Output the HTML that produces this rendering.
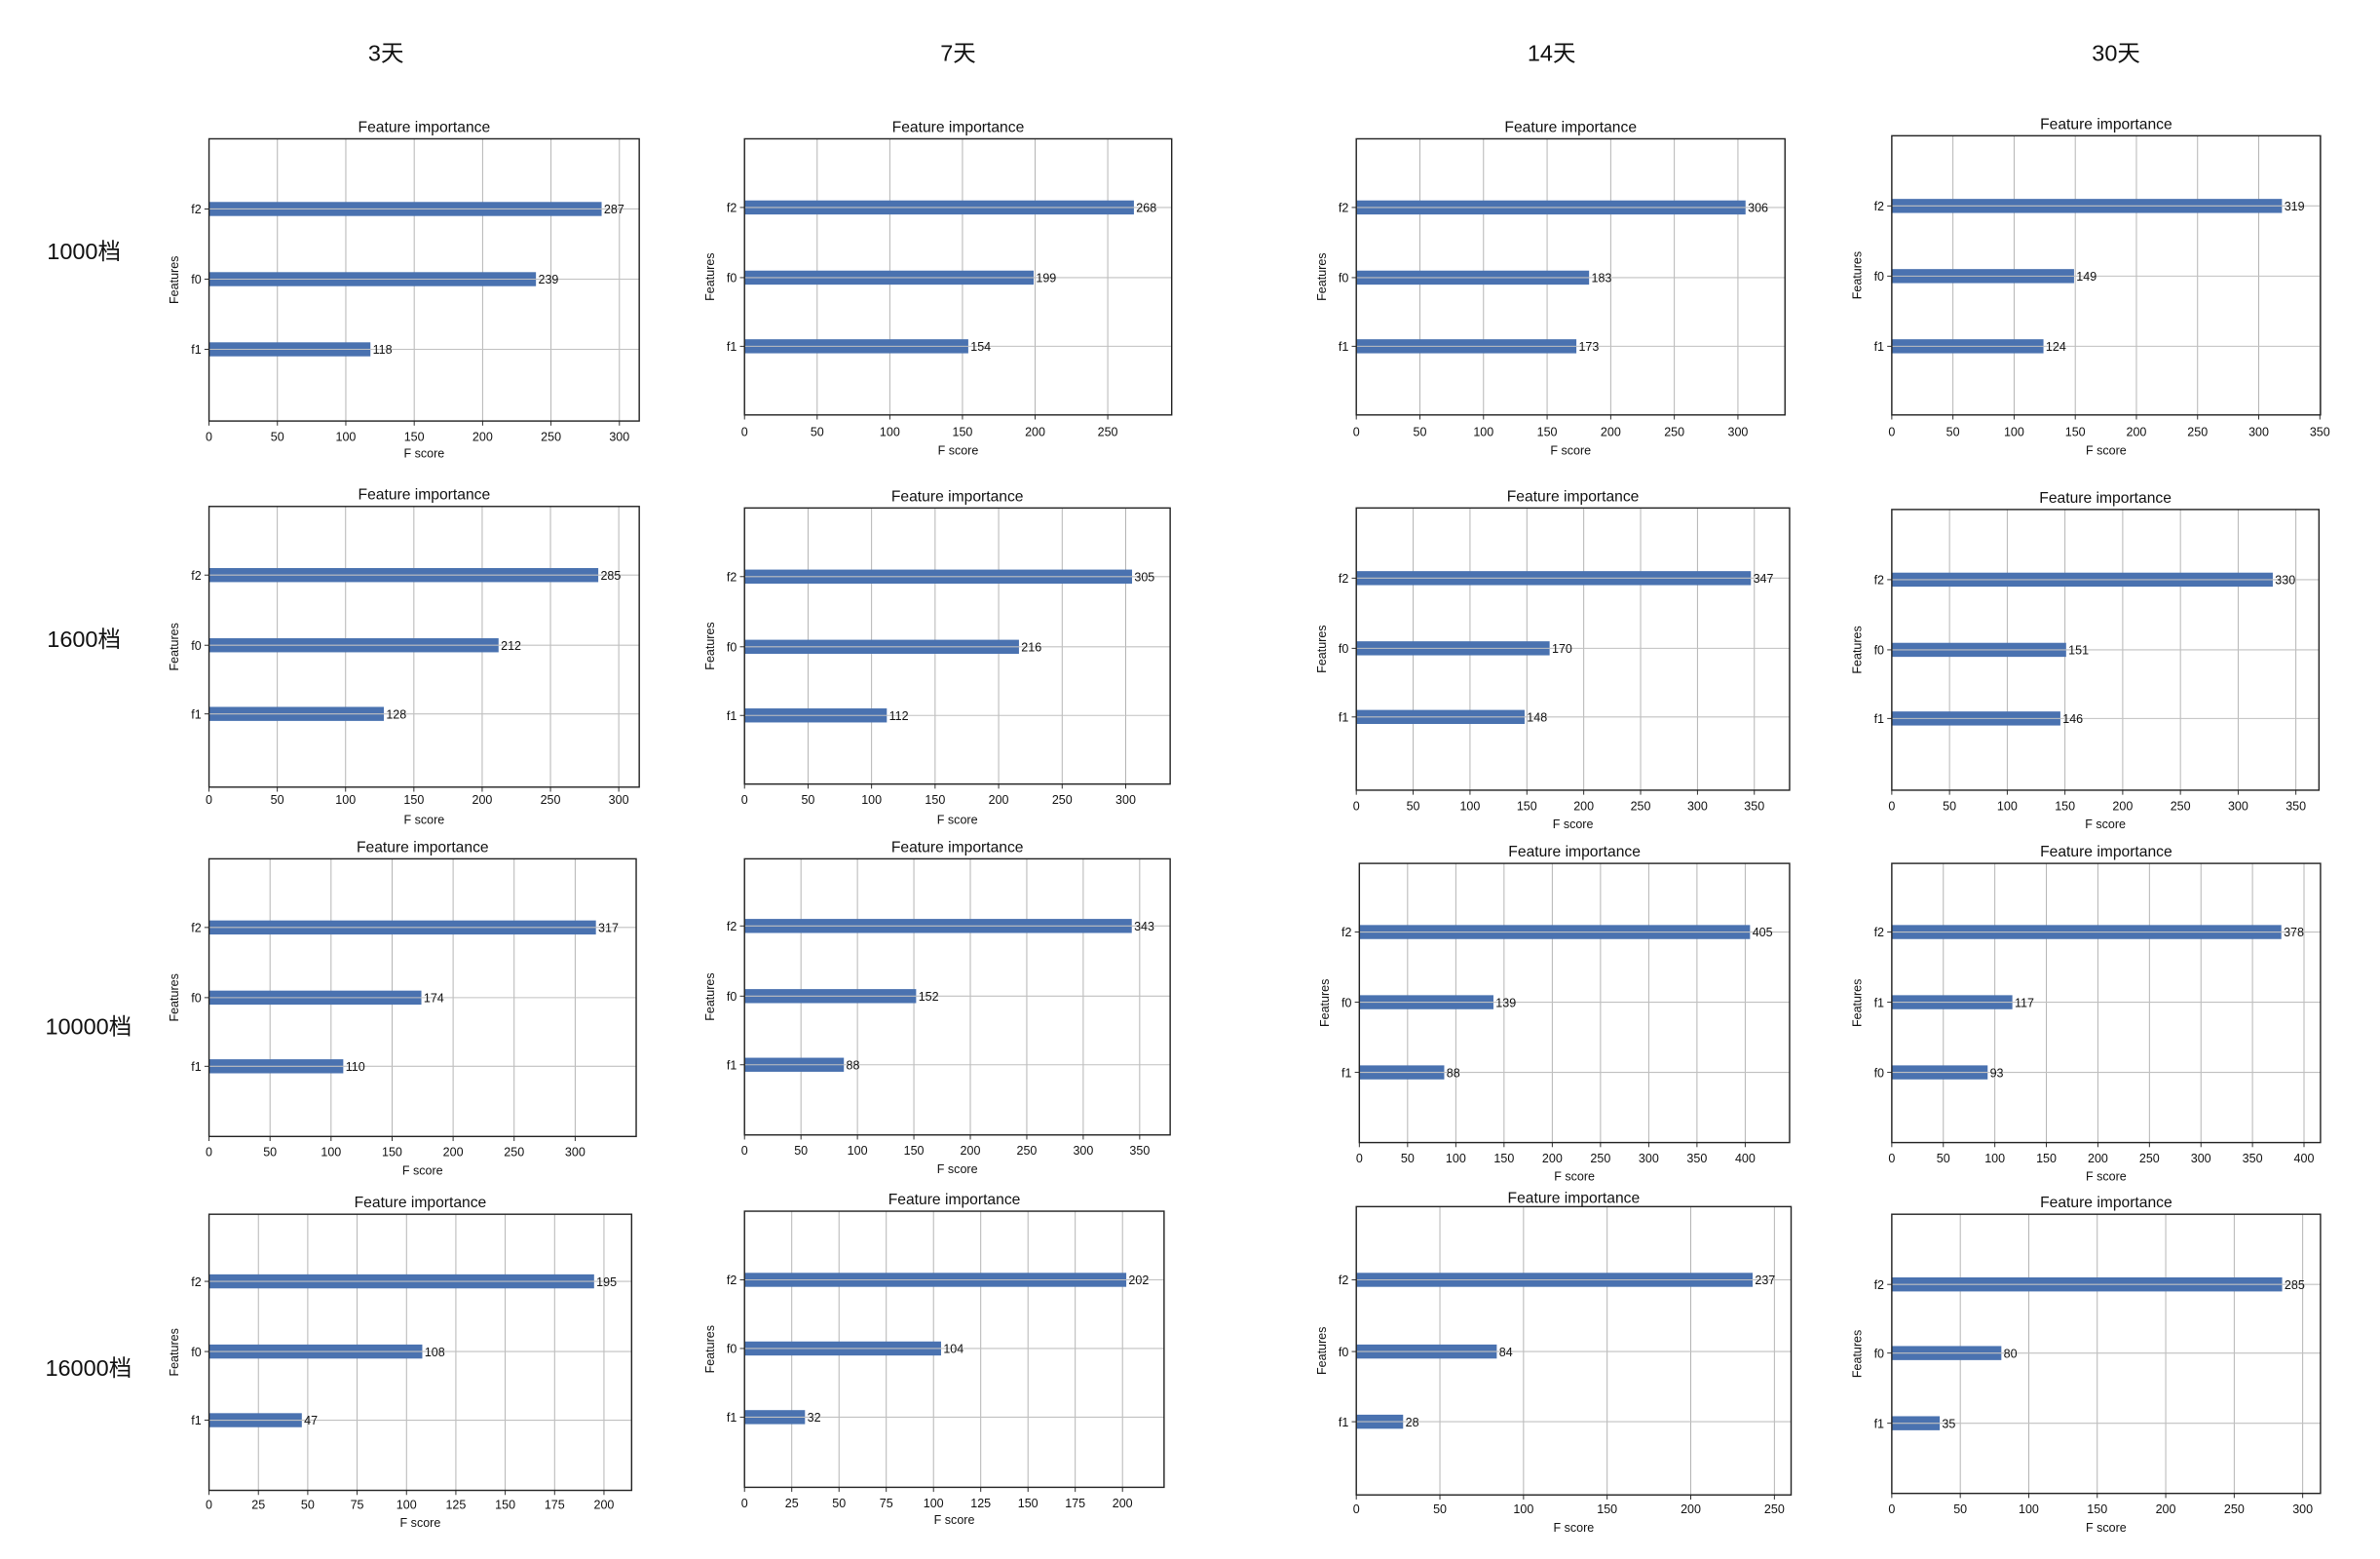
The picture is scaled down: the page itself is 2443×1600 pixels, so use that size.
<!DOCTYPE html>
<html><head><meta charset="utf-8"><style>
html,body{margin:0;padding:0;background:#fff;width:2443px;height:1600px;overflow:hidden}
svg{display:block}
text{font-family:"Liberation Sans","Noto Sans CJK SC",sans-serif;fill:#111}
</style></head><body>
<svg id="s" width="2443" height="1600" viewBox="0 0 1560 1022" preserveAspectRatio="none" xmlns="http://www.w3.org/2000/svg">
<text x="253" y="40" font-size="15" text-anchor="middle">3天</text>
<text x="628" y="40" font-size="15" text-anchor="middle">7天</text>
<text x="1017" y="40" font-size="15" text-anchor="middle">14天</text>
<text x="1387" y="40" font-size="15" text-anchor="middle">30天</text>
<text x="55" y="170" font-size="15" text-anchor="middle">1000档</text>
<text x="55" y="424" font-size="15" text-anchor="middle">1600档</text>
<text x="58" y="678" font-size="15" text-anchor="middle">10000档</text>
<text x="58" y="902" font-size="15" text-anchor="middle">16000档</text>
</svg>
<script>
var P=[
[137,419,91,276,314.5,50,300,[[287,137,'f2'],[239,183,'f0'],[118,229,'f1']],83,286,297],
[488,768,91,272,294,50,250,[[268,136,'f2'],[199,182,'f0'],[154,227,'f1']],83,283,295],
[889,1170,91,272,337,50,300,[[306,136,'f2'],[183,182,'f0'],[173,227,'f1']],83,283,295],
[1240,1521,89,272,350.5,50,350,[[319,135,'f2'],[149,181,'f0'],[124,227,'f1']],81,283,295],
[137,419,332,516,315,50,300,[[285,377,'f2'],[212,423,'f0'],[128,468,'f1']],324,524,537],
[488,767,333,514,335,50,300,[[305,378,'f2'],[216,424,'f0'],[112,469,'f1']],325,524,537],
[889,1173,333,518,381,50,350,[[347,379,'f2'],[170,425,'f0'],[148,470,'f1']],325,528,540],
[1240,1520,334,518,370,50,350,[[330,380,'f2'],[151,426,'f0'],[146,471,'f1']],326,528,540],
[137,417,563,745,350,50,300,[[317,608,'f2'],[174,654,'f0'],[110,699,'f1']],555,755,767],
[488,767,563,744,377,50,350,[[343,607,'f2'],[152,653,'f0'],[88,698,'f1']],555,754,766],
[891,1173,566,749,446,50,400,[[405,611,'f2'],[139,657,'f0'],[88,703,'f1']],558,759,771],
[1240,1521,566,749,416,50,400,[[378,611,'f2'],[117,657,'f1'],[93,703,'f0']],558,759,771],
[137,414,796,977,214,25,200,[[195,840,'f2'],[108,886,'f0'],[47,931,'f1']],788,986,998],
[488,763,794,975,222,25,200,[[202,839,'f2'],[104,884,'f0'],[32,929,'f1']],786,985,996],
[889,1174,791,980,260,50,250,[[237,839,'f2'],[84,886,'f0'],[28,932,'f1']],785,989,1001],
[1240,1521,796,979,313,50,300,[[285,842,'f2'],[80,887,'f0'],[35,933,'f1']],788,989,1001]
];
var h='';
P.forEach(function(p){
 var L=p[0],R=p[1],T=p[2],B=p[3],xm=p[4],st=p[5],mx=p[6],bars=p[7];
 var sc=(R-L)/xm, cx=(L+R)/2;
 for(var v=0;v<=mx;v+=st){var x=L+v*sc;
  h+='<line x1="'+x+'" y1="'+T+'" x2="'+x+'" y2="'+B+'" stroke="#b0b0b0" stroke-width="0.6"/>';
  h+='<line x1="'+x+'" y1="'+B+'" x2="'+x+'" y2="'+(B+3)+'" stroke="#222" stroke-width="0.6"/>';
  h+='<text x="'+x+'" y="'+(p[9]+3)+'" font-size="8" text-anchor="middle">'+v+'</text>';}
 bars.forEach(function(b){var w=b[0]*sc;
  h+='<rect x="'+L+'" y="'+(b[1]-4.6)+'" width="'+w+'" height="9.2" fill="#4a72b0"/>';
  h+='<line x1="'+L+'" y1="'+b[1]+'" x2="'+R+'" y2="'+b[1]+'" stroke="#c0c0c0" stroke-width="0.7"/>';
  h+='<line x1="'+(L-3)+'" y1="'+b[1]+'" x2="'+L+'" y2="'+b[1]+'" stroke="#222" stroke-width="0.6"/>';
  h+='<text x="'+(L+w+1.5)+'" y="'+(b[1]+3)+'" font-size="8">'+b[0]+'</text>';
  h+='<text x="'+(L-5)+'" y="'+(b[1]+3)+'" font-size="8" text-anchor="end">'+b[2]+'</text>';});
 h+='<rect x="'+L+'" y="'+T+'" width="'+(R-L)+'" height="'+(B-T)+'" fill="none" stroke="#222" stroke-width="0.9"/>';
 h+='<text x="'+cx+'" y="'+(p[8]+3.5)+'" font-size="10" text-anchor="middle">Feature importance</text>';
 h+='<text x="'+cx+'" y="'+(p[10]+3)+'" font-size="8" text-anchor="middle">F score</text>';
 var my=(T+B)/2, fx=L-20;
 h+='<text transform="translate('+fx+','+my+') rotate(-90)" font-size="8" text-anchor="middle">Features</text>';
});
document.getElementById('s').insertAdjacentHTML('beforeend',h);
</script>
</body></html>
